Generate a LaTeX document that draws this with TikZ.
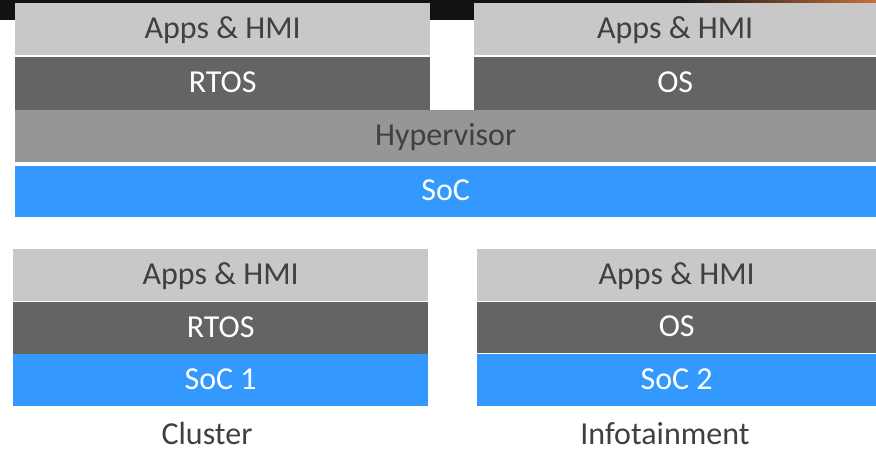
\documentclass[tikz,border=0pt]{standalone}
\usepackage{fontspec}
\setmainfont{Carlito}
\definecolor{appsgray}{HTML}{C8C8C8}
\definecolor{osgray}{HTML}{646464}
\definecolor{hypgray}{HTML}{969696}
\definecolor{socblue}{HTML}{3399FF}
\definecolor{textgray}{HTML}{404040}
\definecolor{photodark}{HTML}{121214}
\definecolor{photoorange}{HTML}{C8703A}
\begin{document}
\begin{tikzpicture}[x=1pt, y=-1pt,
    layer/.style={rectangle, inner sep=0pt, anchor=north west, font=\fontsize{32}{32}\selectfont, text height=22pt, text depth=4pt},
    appslayer/.style={layer, fill=appsgray, text=textgray},
    oslayer/.style={layer, fill=osgray, text=white},
    hyplayer/.style={layer, fill=hypgray, text=textgray},
    soclayer/.style={layer, fill=socblue, text=white},
    caption/.style={font=\fontsize{32}{32}\selectfont, text=textgray, inner sep=0pt, anchor=base}]
    \useasboundingbox (0,0) rectangle (876,448);
    % photo strip behind the slide
    \fill[photodark] (0,0) rectangle (680,20);
    \fill[left color=photodark, right color=photoorange] (680,0) rectangle (876,20);
    % Virtualised: one SoC with hypervisor
    \node[appslayer, minimum width=415, minimum height=52] (apps-cl) at (15,3) {Apps \& HMI};
    \node[oslayer, minimum width=415, minimum height=53] (rtos) at (15,57) {RTOS};
    \node[appslayer, minimum width=402, minimum height=52] (apps-it) at (474,3) {Apps \& HMI};
    \node[oslayer, minimum width=402, minimum height=53] (os) at (474,57) {OS};
    \node[hyplayer, minimum width=861, minimum height=52] (hyp) at (15,110) {Hypervisor};
    \node[soclayer, minimum width=861, minimum height=51] (soc) at (15,166) {SoC};
    % Separate: one SoC per domain
    \node[appslayer, minimum width=415, minimum height=52] (apps-one) at (13,249) {Apps \& HMI};
    \node[oslayer, minimum width=415, minimum height=52] (rtos-one) at (13,302) {RTOS};
    \node[soclayer, minimum width=415, minimum height=52] (soc-one) at (13,354) {SoC 1};
    \node[appslayer, minimum width=399, minimum height=52] (apps-two) at (477,249) {Apps \& HMI};
    \node[oslayer, minimum width=399, minimum height=51] (os-two) at (477,302) {OS};
    \node[soclayer, minimum width=399, minimum height=52] (soc-two) at (477,354) {SoC 2};
    \node[caption] (cluster) at (207,444) {Cluster};
    \node[caption] (infotainment) at (665,444) {Infotainment};
\end{tikzpicture}
\end{document}
